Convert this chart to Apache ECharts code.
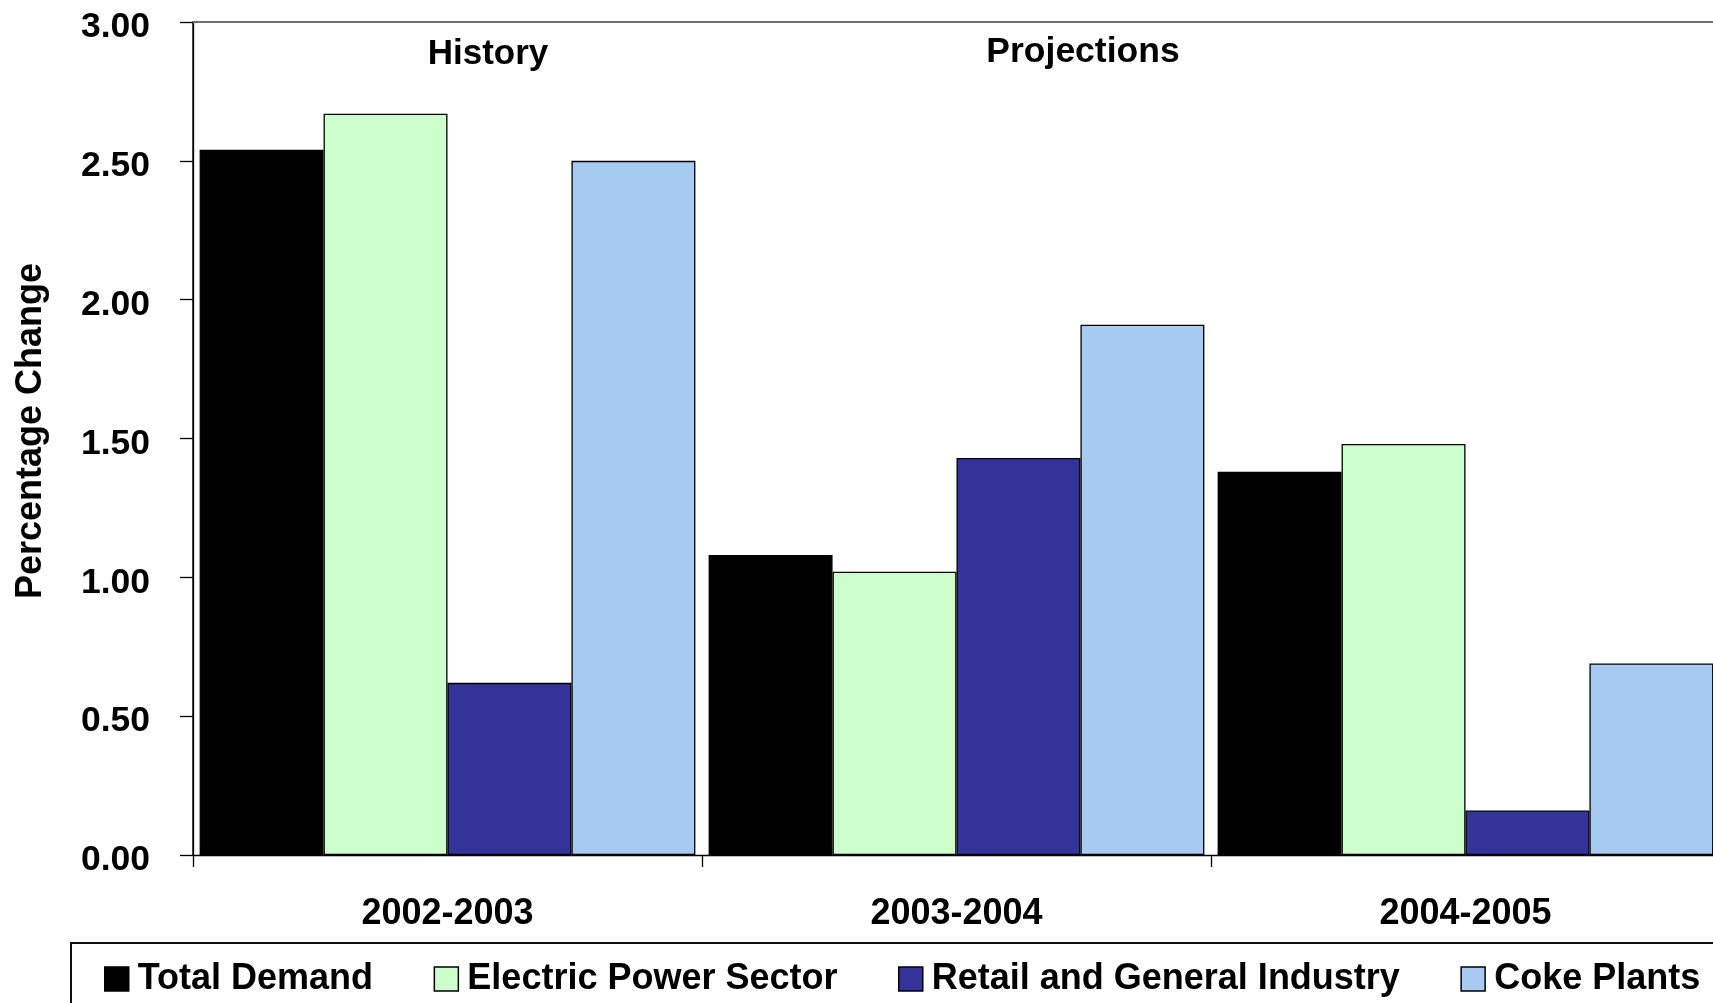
<!DOCTYPE html>
<html>
<head>
<meta charset="utf-8">
<script src="https://cdn.jsdelivr.net/npm/echarts@6/dist/echarts.min.js"></script>
<style>
html,body{margin:0;padding:0;background:#fff;overflow:hidden;width:1713px;height:1003px;}
#chart{width:1760px;height:1003px;}
</style>
</head>
<body>
<div id="chart"></div>
<script>
var categories = ['2002-2003', '2003-2004', '2004-2005'];
var seriesNames = ['Total Demand', 'Electric Power Sector', 'Retail and General Industry', 'Coke Plants'];
var totalDemand = [2.54, 1.08, 1.38];
var electricPower = [2.67, 1.02, 1.48];
var retailIndustry = [0.62, 1.43, 0.16];
var cokePlants = [2.50, 1.91, 0.69];
var yTicks = { min: 0, max: 3, interval: 0.5 };
var periodLabels = ['History', 'Projections'];

var colors = ['#000000', '#CCFFCC', '#333399', '#A6CAF0'];
var font = '"Liberation Sans", Arial, sans-serif';
var values = [totalDemand, electricPower, retailIndustry, cokePlants];

var chart = echarts.init(document.getElementById('chart'), null, { renderer: 'canvas' });

var series = seriesNames.map(function (name, i) {
  return {
    name: name,
    type: 'bar',
    data: values[i],
    barGap: '0%',
    barCategoryGap: '2.6%',
    itemStyle: { color: colors[i], borderColor: '#000', borderWidth: 1.3 },
    emphasis: { disabled: true },
    animation: false
  };
});

chart.setOption({
  animation: false,
  textStyle: { fontFamily: font },
  grid: { left: 193, top: 22, height: 833, width: 1527, containLabel: false },
  legend: {
    data: seriesNames,
    icon: 'rect',
    left: 71,
    top: 943,
    width: 1680,
    orient: 'horizontal',
    itemWidth: 24,
    itemHeight: 24,
    itemGap: 60.5,
    padding: [18, 80, 60, 33],
    borderColor: '#111',
    borderWidth: 2,
    backgroundColor: '#fff',
    itemStyle: { borderColor: '#000', borderWidth: 1.5 },
    textStyle: { fontFamily: font, fontSize: 36, fontWeight: 'bold', color: '#000', padding: [0, 0, 0, 4] },
    selectedMode: false
  },
  xAxis: [{
    type: 'category',
    data: categories,
    position: 'bottom',
    boundaryGap: true,
    axisLine: { show: true, lineStyle: { color: '#000', width: 1.3 } },
    axisTick: { show: true, length: 12, inside: false, alignWithLabel: false, lineStyle: { color: '#000', width: 1.3 } },
    splitLine: {
      show: true,
      interval: function (index) { return index === 1; },
      lineStyle: { color: '#111', width: 1.5 }
    },
    axisLabel: { fontFamily: font, fontSize: 36, fontWeight: 'bold', color: '#000', margin: 41 }
  }, {
    type: 'category',
    data: categories,
    position: 'top',
    axisLine: { show: true, lineStyle: { color: '#6e6e6e', width: 2 } },
    axisTick: { show: false },
    axisLabel: { show: false },
    splitLine: { show: false }
  }],
  yAxis: {
    type: 'value',
    min: yTicks.min,
    max: yTicks.max,
    interval: yTicks.interval,
    axisLine: { show: true, lineStyle: { color: '#000', width: 1.3 } },
    axisTick: { show: true, length: 13, lineStyle: { color: '#000', width: 1.3 } },
    splitLine: { show: false },
    axisLabel: {
      color: '#000', margin: 43,
      formatter: function (v) { return '{v|' + v.toFixed(2) + '}'; },
      rich: {
        v: { fontFamily: font, fontSize: 35.5, fontWeight: 'bold', color: '#000', lineHeight: 47, verticalAlign: 'bottom' }
      }
    }
  },
  graphic: [
    { type: 'text', x: 488, y: 54.5, style: { text: periodLabels[0], font: 'bold 35px ' + font, fill: '#000', textAlign: 'center', textVerticalAlign: 'middle' } },
    { type: 'text', x: 1083, y: 52.5, style: { text: periodLabels[1], font: 'bold 35.5px ' + font, fill: '#000', textAlign: 'center', textVerticalAlign: 'middle' } },
    { type: 'text', x: 31, y: 431, rotation: Math.PI / 2, style: { text: 'Percentage Change', font: 'bold 36px ' + font, fill: '#000', textAlign: 'center', textVerticalAlign: 'middle' } }
  ],
  series: series
});
</script>
</body>
</html>
